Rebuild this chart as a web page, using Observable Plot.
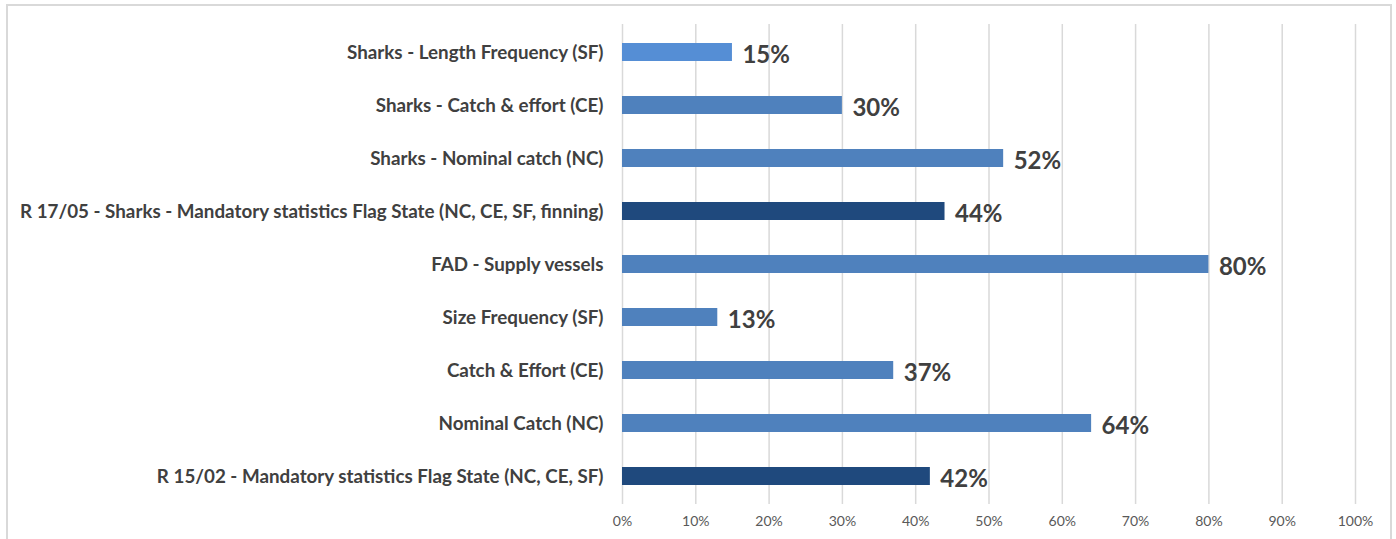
<!DOCTYPE html>
<html>
<head>
<meta charset="utf-8">
<script src="https://cdn.jsdelivr.net/npm/d3@7"></script>
<script src="https://cdn.jsdelivr.net/npm/@observablehq/plot@0.6"></script>
<style>
  html, body { margin: 0; padding: 0; background: #ffffff; overflow: hidden; }
  #wrap { position: relative; width: 1396px; height: 539px; }
  #frame { position: absolute; left: 6px; top: 4px; width: 1386px; height: 600px; border: 2px solid #D9D9D9; box-sizing: border-box; pointer-events: none; }
  #chart { position: absolute; left: 0; top: 0; }
</style>
</head>
<body>
<div id="wrap">
  <div id="chart"></div>
  <div id="frame"></div>
</div>
<script>
const categories = [
  "Sharks - Length Frequency (SF)",
  "Sharks - Catch & effort (CE)",
  "Sharks - Nominal catch (NC)",
  "R 17/05 - Sharks - Mandatory statistics Flag State (NC, CE, SF, finning)",
  "FAD - Supply vessels",
  "Size Frequency (SF)",
  "Catch & Effort (CE)",
  "Nominal Catch (NC)",
  "R 15/02 - Mandatory statistics Flag State (NC, CE, SF)"
];
const values = [0.15, 0.30, 0.52, 0.44, 0.80, 0.13, 0.37, 0.64, 0.42];
const groups = ["highlight", "item", "item", "resolution", "item", "item", "item", "item", "resolution"];
const xTicks = [0, 0.1, 0.2, 0.3, 0.4, 0.5, 0.6, 0.7, 0.8, 0.9, 1.0];

const groupDomain = ["highlight", "item", "resolution"];
const groupColors = ["#558ED5", "#4F81BD", "#1F497D"];

const data = categories.map((c, i) => ({category: c, value: values[i], group: groups[i]}));
const pct = d3.format(".0%");

const chart = Plot.plot({
  width: 1396,
  height: 539,
  marginLeft: 622,
  marginRight: 41,
  marginTop: 24,
  marginBottom: 35,
  style: {fontFamily: "Lato, 'Open Sans', sans-serif", background: "#ffffff"},
  x: {domain: [0, 1], ticks: xTicks, tickFormat: pct, label: null},
  y: {domain: categories, paddingInner: 0.66, paddingOuter: 0.33, label: null},
  color: {domain: groupDomain, range: groupColors},
  marks: [
    Plot.gridX(xTicks, {stroke: "#D9D9D9", strokeOpacity: 1, strokeWidth: 1.5}),
    Plot.barX(data, {x: "value", y: "category", fill: "group"}),
    Plot.text(data, {
      x: "value", y: "category", text: d => pct(d.value),
      dx: 10, dy: 3, textAnchor: "start",
      fontSize: 24, fontWeight: "bold", fill: "#404040"
    }),
    Plot.axisY({tickSize: 0, tickPadding: 19, fontSize: 18.8, fontWeight: "bold", fill: "#404040", label: null}),
    Plot.axisX(xTicks, {tickSize: 0, tickPadding: 12, fontSize: 14, fill: "#595959", tickFormat: pct, label: null})
  ]
});
document.getElementById("chart").appendChild(chart);
</script>
</body>
</html>
